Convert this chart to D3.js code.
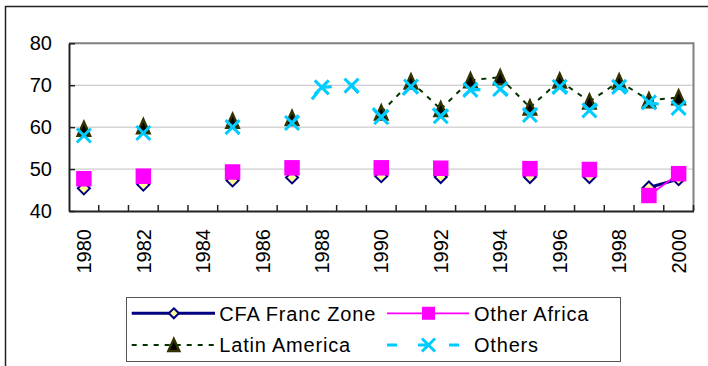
<!DOCTYPE html>
<html>
<head>
<meta charset="utf-8">
<script src="https://cdn.jsdelivr.net/npm/d3@7/dist/d3.min.js"></script>
<style>
  body { margin: 0; background: #fff; }
  svg { display: block; font-family: "Liberation Sans", Arial, sans-serif; }
</style>
</head>
<body>
<svg id="chart" width="708" height="366"></svg>
<script>
// Years on the category axis
const years = [1980, 1981, 1982, 1983, 1984, 1985, 1986, 1987, 1988, 1989, 1990,
               1991, 1992, 1993, 1994, 1995, 1996, 1997, 1998, 1999, 2000];
// Labelled years (every second category)
const yearLabels = [1980, 1982, 1984, 1986, 1988, 1990, 1992, 1994, 1996, 1998, 2000];
const yTicks = [40, 50, 60, 70, 80];

// Series values (null = no observation that year)
const cfaFrancZone = [45.4, null, 46.3, null, null, 47.3, null, 48.0, null, null, 48.3,
                      null, 48.1, null, null, 48.1, null, 48.1, null, 45.6, 47.6];
const otherAfrica  = [47.7, null, 48.3, null, null, 49.3, null, 50.3, null, null, 50.3,
                      null, 50.2, null, null, 50.1, null, 49.9, null, 43.7, 48.9];
const latinAmerica = [59.6, null, 60.2, null, null, 61.5, null, 62.2, null, null, 63.5,
                      70.9, 64.3, 71.2, 71.9, 64.7, 71.1, 66.1, 70.9, 66.4, 67.1];
const others       = [58.0, null, 58.6, null, null, 60.0, null, 61.0, 69.5, 69.9, 62.4,
                      69.7, 62.6, 68.9, 69.1, 62.9, 69.6, 64.0, 69.6, 65.9, 64.6];

const seriesNames = ["CFA Franc Zone", "Other Africa", "Latin America", "Others"];

const svg = d3.select("#chart");

// Outer chart frame
svg.append("rect")
  .attr("x", 5.5).attr("y", 6.5).attr("width", 720).attr("height", 380)
  .attr("fill", "#fff").attr("stroke", "#222").attr("stroke-width", 1.5);

const plot = { left: 69, right: 693.5, top: 43.3, bottom: 211 };

const x = d3.scaleBand().domain(years).range([plot.left, plot.right]).padding(0);
const y = d3.scaleLinear().domain([40, 80]).range([plot.bottom, plot.top]);
const cx = yr => x(yr) + x.bandwidth() / 2;

// Gridlines
svg.append("g").selectAll("line")
  .data(yTicks.filter(t => t > 40 && t < 80))
  .join("line")
  .attr("x1", plot.left).attr("x2", plot.right)
  .attr("y1", d => y(d)).attr("y2", d => y(d))
  .attr("stroke", "#c0c0c0").attr("stroke-width", 1);

// Plot area border (top and right)
svg.append("path")
  .attr("d", `M${plot.left},${y(80)}H${plot.right}V${plot.bottom}`)
  .attr("fill", "none").attr("stroke", "#808080").attr("stroke-width", 2);

// Y axis with inward ticks
const yAxis = svg.append("g")
  .attr("transform", `translate(${plot.left},0)`)
  .call(d3.axisLeft(y).tickValues(yTicks).tickSize(-6).tickPadding(17).tickSizeOuter(0));
yAxis.select(".domain").attr("stroke", "#222").attr("stroke-width", 2);
yAxis.selectAll(".tick line").attr("stroke", "#222").attr("stroke-width", 1.5);
yAxis.selectAll("text").attr("font-size", 20).attr("fill", "#000")
  .attr("font-family", "Liberation Sans, Arial, sans-serif");

// X axis: category boundaries get inward ticks, labels rotated
const xAxis = svg.append("g")
  .attr("transform", `translate(0,${plot.bottom})`)
  .call(d3.axisBottom(x).tickValues(yearLabels).tickSize(0).tickSizeOuter(0));
xAxis.select(".domain").attr("stroke", "#222").attr("stroke-width", 2);
xAxis.selectAll("text")
  .attr("font-size", 20).attr("fill", "#000")
  .attr("font-family", "Liberation Sans, Arial, sans-serif")
  .attr("transform", "rotate(-90)")
  .attr("x", -18).attr("y", 0).attr("dy", "0.36em")
  .style("text-anchor", "end");
svg.append("g").selectAll("line")
  .data(years.slice(1).concat(["end"]))
  .join("line")
  .attr("x1", d => d === "end" ? plot.right : x(d))
  .attr("x2", d => d === "end" ? plot.right : x(d))
  .attr("y1", plot.bottom).attr("y2", plot.bottom - 6)
  .attr("stroke", "#222").attr("stroke-width", 1.5);

// Marker shapes
function diamondPath(r) { return `M0,${-r}L${r},0L0,${r}L${-r},0Z`; }
function squarePath(s) { return `M${-s/2},${-s/2}h${s}v${s}h${-s}Z`; }
function trianglePath(w, h) { return `M0,${-h/2}L${w/2},${h/2}L${-w/2},${h/2}Z`; }
function crossPath(r) { return `M${-r},${-r}L${r},${r}M${r},${-r}L${-r},${r}`; }

const styles = [
  { data: cfaFrancZone, line: { stroke: "#000080", width: 3, dash: null },
    marker: s => s.append("path").attr("d", diamondPath(s.legend ? 5 : 6))
      .attr("fill", "#ffff99").attr("stroke", "#000080").attr("stroke-width", 2) },
  { data: otherAfrica, line: { stroke: "#ff00ff", width: 1.75, dash: null },
    marker: s => s.append("path").attr("d", squarePath(s.legend ? 13 : 15.5))
      .attr("fill", "#ff00ff").attr("stroke", "none") },
  { data: latinAmerica, line: { stroke: "#003300", width: 2, dash: "5,6" },
    marker: s => s.append("path").attr("d", trianglePath(s.legend ? 11 : 12.5, s.legend ? 12 : 14))
      .attr("fill", "#000").attr("stroke", "#333300").attr("stroke-width", 2.4)
      .attr("stroke-linejoin", "miter") },
  { data: others, line: { stroke: "#00ccff", width: 3.2, dash: "10,21" },
    marker: s => s.append("path").attr("d", crossPath(s.legend ? 6.5 : 7))
      .attr("fill", "none").attr("stroke", "#00ccff").attr("stroke-width", 3) }
];

const lineGen = d3.line().x(d => cx(d.year)).y(d => y(d.value));

// Each series: connecting segments (dash restarts per segment), then markers
styles.forEach(st => {
  const g = svg.append("g");
  const pts = years.map((yr, i) => ({ year: yr, value: st.data[i] }));
  const segs = [];
  for (let i = 0; i < pts.length - 1; i++) {
    if (pts[i].value != null && pts[i + 1].value != null) segs.push([pts[i], pts[i + 1]]);
  }
  g.selectAll("path.seg").data(segs).join("path")
    .attr("class", "seg")
    .attr("d", lineGen)
    .attr("fill", "none")
    .attr("stroke", st.line.stroke)
    .attr("stroke-width", st.line.width)
    .attr("stroke-dasharray", st.line.dash);
  pts.filter(p => p.value != null).forEach(p => {
    const m = g.append("g").attr("transform", `translate(${cx(p.year)},${y(p.value)})`);
    m.legend = false;
    st.marker(m);
  });
});

// Legend
const legend = svg.append("g");
legend.append("rect")
  .attr("x", 126.5).attr("y", 297.5).attr("width", 494).attr("height", 64)
  .attr("fill", "#fff").attr("stroke", "#555").attr("stroke-width", 1);

const legendPos = [
  { x0: 131.7, x1: 215, tx: 219.3, cy: 313.3 },
  { x0: 387, x1: 469, tx: 474, cy: 313.3 },
  { x0: 131.7, x1: 215, tx: 219.3, cy: 345 },
  { x0: 387, x1: 469, tx: 474, cy: 345 }
];

seriesNames.forEach((name, i) => {
  const st = styles[i], p = legendPos[i];
  legend.append("line")
    .attr("x1", p.x0).attr("x2", p.x1).attr("y1", p.cy).attr("y2", p.cy)
    .attr("stroke", st.line.stroke).attr("stroke-width", st.line.width)
    .attr("stroke-dasharray", st.line.dash);
  const m = legend.append("g").attr("transform", `translate(${(p.x0 + p.x1) / 2 + 0.5},${p.cy})`);
  m.legend = true;
  st.marker(m);
  legend.append("text")
    .attr("x", p.tx).attr("y", p.cy + 7.3)
    .attr("font-size", 20).attr("letter-spacing", 0.8).attr("fill", "#000")
    .text(name);
});
</script>
</body>
</html>
